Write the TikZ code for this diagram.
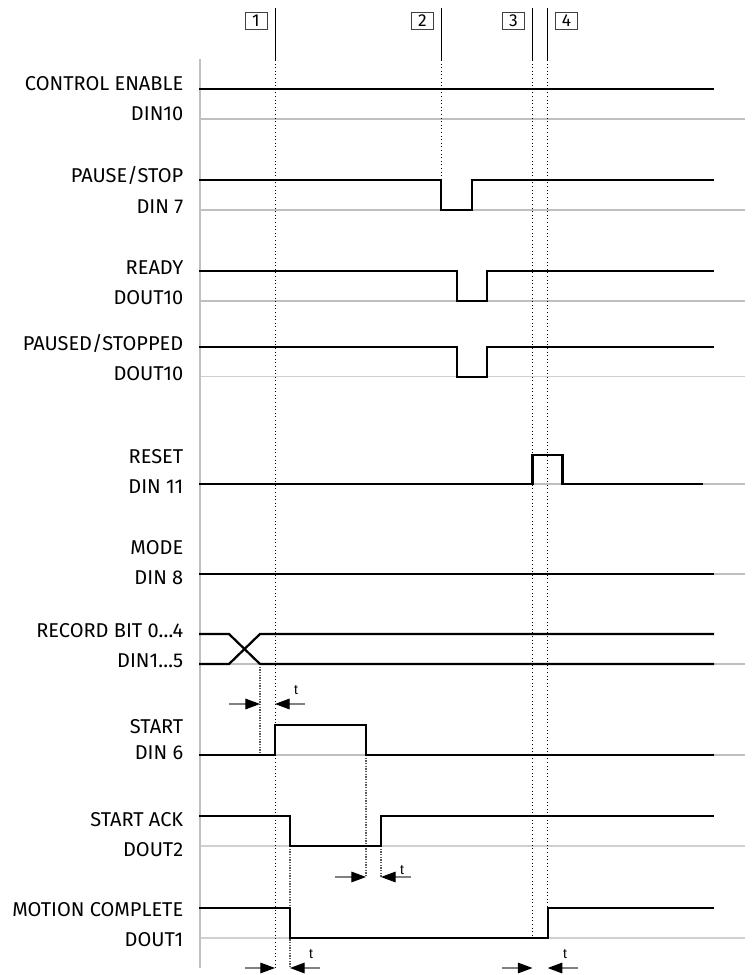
\documentclass[tikz,border=0pt]{standalone}
\usepackage{fontspec}
\setmainfont{Fira Sans}
\newfontfamily\tfont{Liberation Sans}
\usetikzlibrary{arrows.meta}
\definecolor{axisgray}{RGB}{192,192,192}
\definecolor{paleline}{RGB}{208,208,208}

\begin{document}
\begin{tikzpicture}[x=0.75pt,y=-0.75pt,
    signal/.style={line width=1.7pt,line join=miter},
    base/.style={axisgray,line width=1.3pt},
    thinbase/.style={paleline,line width=0.8pt},
    marker/.style={line width=0.7pt},
    guide/.style={dotted,line width=0.7pt},
    tguide/.style={black!65,densely dotted,line width=1pt},
    tarrow/.style={gray,line width=0.8pt,-{Triangle[black,length=11pt,width=8pt]}},
    lbl/.style={font=\fontsize{15}{17}\selectfont,anchor=base east,inner sep=0pt},
    numbox/.style={draw=black!75,line width=0.6pt,minimum width=16.5pt,minimum height=12.75pt,
      inner sep=0pt,font=\fontsize{13}{13}\selectfont},
    tlbl/.style={font=\tfont\fontsize{10.5}{10.5}\selectfont,anchor=base,inner sep=0pt}]

  \useasboundingbox (0,0) rectangle (753,975);

  % gray reference lines
  \foreach \y in {119.3,210,301,484,574,664,755}
    \draw[base] (199,\y) -- (745,\y);
  \foreach \y in {376.7,846,938}
    \draw[thinbase] (199,\y) -- (745,\y);
  \draw[axisgray,line width=1.5pt] (199.5,59) -- (199.5,968);

  % signal names
  \foreach \i/\ya/\ta/\yb/\tb in {
      1/90.7/CONTROL ENABLE/120.7/DIN10,
      2/182.7/{PAUSE/STOP}/213.3/DIN 7,
      3/274/READY/304/DOUT10,
      4/350.7/{PAUSED/STOPPED}/380.7/DOUT10,
      5/463/RESET/493/DIN 11,
      6/554/MODE/584/DIN 8,
      7/637/RECORD BIT 0…4/667/DIN1…5,
      8/733/START/759/DIN 6,
      9/826/START ACK/856.5/DOUT2,
      10/916.7/MOTION COMPLETE/946.7/DOUT1}
  {
    \node[lbl] (top\i) at (183.5,\ya) {\ta};
    \node[lbl] (bot\i) at (183.5,\yb) {\tb};
  }

  % event markers
  \foreach \n/\x/\xb/\e in {1/275/256/968,2/441/422.5/180.3,3/532.5/513.5/938,4/547.7/566.5/938}
  {
    \node[numbox] (m\n) at (\xb,21) {\n};
    \coordinate (k\n) at (\x,60);
    \draw[marker] (\x,8) -- (k\n);
    \draw[guide] (k\n) -- (\x,\e);
  }

  % timing guides
  \draw[tguide] (260,664) -- (260,755);
  \draw[tguide] (366,755) -- (366,877);
  \draw[tguide] (381,846) -- (381,877);
  \draw[tguide] (290,846) -- (290,968);

  % signals
  \draw[signal] (199,89.3) -- (714,89.3);
  \draw[signal] (199,180.3) -- (441,180.3) -- (441,210) -- (472,210) -- (472,180.3) -- (714,180.3);
  \draw[signal] (199,270.7) -- (457,270.7) -- (457,301) -- (487,301) -- (487,270.7) -- (714,270.7);
  \draw[signal] (199,346.7) -- (457,346.7) -- (457,376.7) -- (487,376.7) -- (487,346.7) -- (714,346.7);
  \draw[signal] (199,484) -- (532.5,484) -- (532.5,455) -- (562.5,455) -- (562.5,484) -- (703,484);
  \draw[signal] (199,574) -- (714,574);
  \draw[signal] (199,634) -- (229,634) -- (260,664) -- (714,664);
  \draw[signal] (199,664) -- (229,664) -- (260,634) -- (714,634);
  \draw[signal] (199,755) -- (275,755) -- (275,725) -- (366,725) -- (366,755) -- (714,755);
  \draw[signal] (199,816) -- (290,816) -- (290,846) -- (381,846) -- (381,816) -- (714,816);
  \draw[signal] (199,908) -- (290,908) -- (290,938) -- (547.7,938) -- (547.7,908) -- (714,908);

  % delay arrows
  \foreach \a/\b/\c/\d/\y/\tx/\ty in {
      229/260/305/275/704/296/694,
      335/366/411/381/877/402/874,
      245/275/320/290/968/311/958,
      502/532.5/578/547.7/968/565/958}
  {
    \draw[tarrow] (\a,\y) -- (\b,\y);
    \draw[tarrow] (\c,\y) -- (\d,\y);
    \node[tlbl] at (\tx,\ty) {t};
  }
\end{tikzpicture}
\end{document}
